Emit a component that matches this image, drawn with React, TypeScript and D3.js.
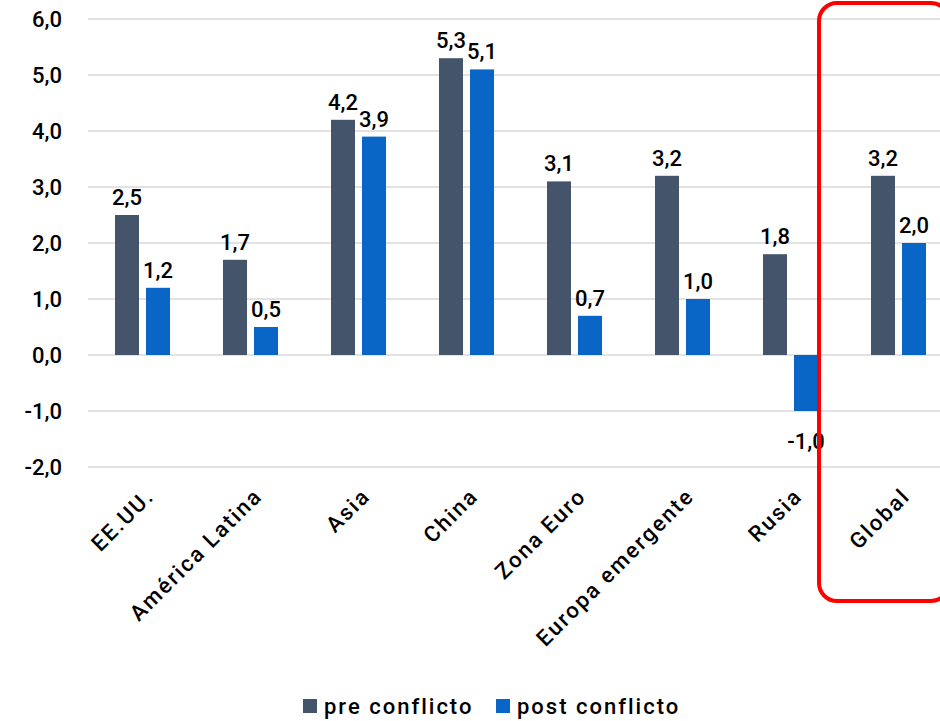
import React from 'react'
import * as d3 from 'd3'

const categories = ['EE.UU.', 'América Latina', 'Asia', 'China', 'Zona Euro', 'Europa emergente', 'Rusia', 'Global']
const preConflicto = [2.5, 1.7, 4.2, 5.3, 3.1, 3.2, 1.8, 3.2]
const postConflicto = [1.2, 0.5, 3.9, 5.1, 0.7, 1.0, -1.0, 2.0]
const yTicks = [-2, -1, 0, 1, 2, 3, 4, 5, 6]
const seriesNames = ['pre conflicto', 'post conflicto']
const colors = ['#44546A', '#0A66C6']

const W = 940
const H = 721
const FONT = "'Roboto', sans-serif"

function drawChart(ref: React.RefObject<SVGSVGElement>) {
  const svg = d3.select(ref.current).attr('width', W).attr('height', H)
  svg.selectAll('*').remove()
  const y = d3.scaleLinear().domain([-2, 6]).range([467, 19])
  const x = d3.scaleBand().domain(categories).range([88, 952])
  const fmt = (v: number) => d3.format('.1f')(v).replace('.', ',').replace('−', '-')

  const g = svg.append('g').attr('font-family', FONT).attr('font-size', 22)
    .attr('font-weight', 500).attr('fill', '#000')

  g.selectAll('line.grid').data(yTicks).join('line')
    .attr('x1', 88).attr('x2', 940).attr('y1', d => y(d)).attr('y2', d => y(d))
    .attr('stroke', '#d9d9d9').attr('stroke-width', 1.3)
  g.selectAll('text.yt').data(yTicks).join('text')
    .attr('x', 62).attr('y', d => y(d)).attr('dy', '0.35em').attr('text-anchor', 'end')
    .text(d => fmt(d))

  const bw = 24
  const offsets = [-27, 4]
  ;[preConflicto, postConflicto].forEach((vals, si) => {
    const bars = g.append('g')
    bars.selectAll('rect').data(vals).join('rect')
      .attr('x', (d, i) => x(categories[i])! + x.bandwidth() / 2 + offsets[si])
      .attr('y', d => y(Math.max(0, d)))
      .attr('width', bw)
      .attr('height', d => Math.abs(y(d) - y(0)))
      .attr('fill', colors[si])
    bars.selectAll('text').data(vals).join('text')
      .attr('x', (d, i) => x(categories[i])! + x.bandwidth() / 2 + offsets[si] + bw / 2)
      .attr('y', d => d >= 0 ? y(d) - 10 : y(d) + 38)
      .attr('text-anchor', 'middle')
      .text(d => fmt(d))
  })

  g.selectAll('text.xl').data(categories).join('text')
    .attr('transform', d => `translate(${x(d)! + x.bandwidth() / 2 + 8},${492}) rotate(-45)`)
    .attr('text-anchor', 'end').attr('dy', '0.35em').attr('letter-spacing', 2)
    .text(d => d)

  svg.append('rect').attr('x', 819).attr('y', 3).attr('width', 130).attr('height', 598)
    .attr('rx', 18).attr('fill', 'none').attr('stroke', '#ff0000').attr('stroke-width', 4)

  const leg = g.append('g')
  const lx = [303, 496]
  seriesNames.forEach((n, i) => {
    leg.append('rect').attr('x', lx[i]).attr('y', 699).attr('width', 14).attr('height', 14).attr('fill', colors[i])
    leg.append('text').attr('x', lx[i] + 21).attr('y', 706).attr('dy', '0.35em')
      .attr('letter-spacing', 2).text(n)
  })
}

export default function App() {
  const ref = React.useRef<SVGSVGElement>(null)
  React.useEffect(() => { drawChart(ref) }, [])
  return <svg ref={ref} style={{ position: 'absolute', left: 0, top: 0, background: '#fff' }} />
}
